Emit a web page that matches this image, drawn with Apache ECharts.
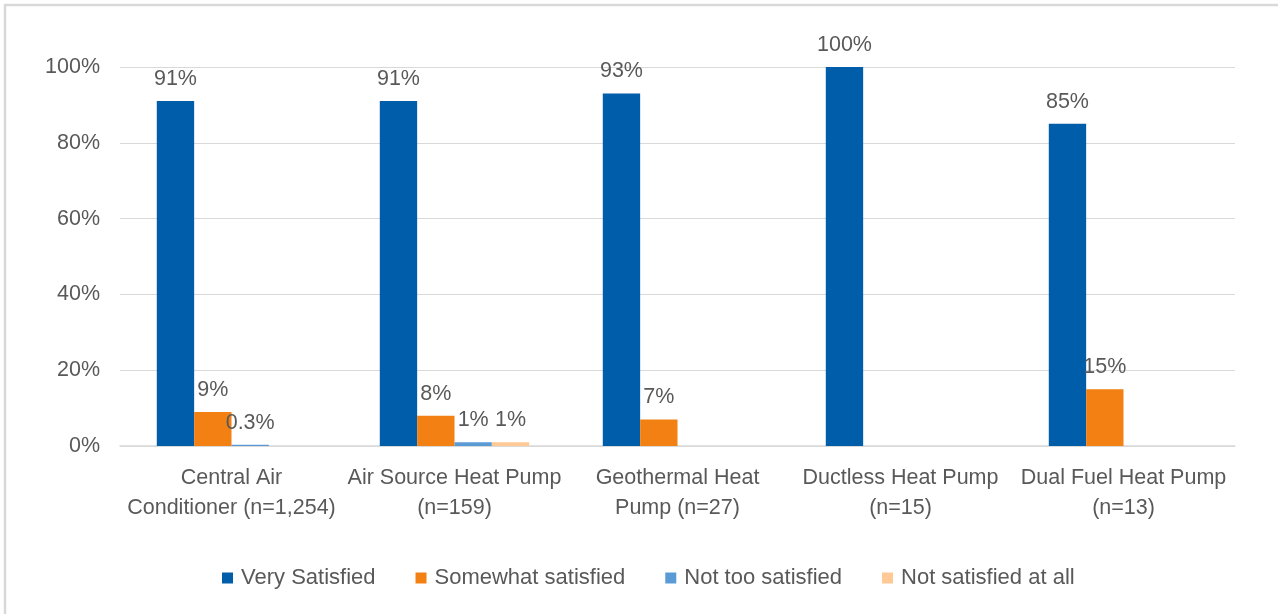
<!DOCTYPE html>
<html>
<head>
<meta charset="utf-8">
<script src="https://cdn.jsdelivr.net/npm/echarts@6/dist/echarts.min.js"></script>
<style>
  html, body { margin: 0; padding: 0; background: #ffffff; }
  #chart { width: 1278px; height: 614px; }
</style>
</head>
<body>
<div id="chart"></div>
<script>
// Satisfaction with cooling system, by system type (percent of respondents)
const categories = [
  'Central Air\nConditioner (n=1,254)',
  'Air Source Heat Pump\n(n=159)',
  'Geothermal Heat\nPump (n=27)',
  'Ductless Heat Pump\n(n=15)',
  'Dual Fuel Heat Pump\n(n=13)'
];
const seriesNames = ['Very Satisfied', 'Somewhat satisfied', 'Not too satisfied', 'Not satisfied at all'];
const verySatisfied      = [91, 91, 93, 100, 85];
const somewhatSatisfied  = [9, 8, 7, null, 15];
const notTooSatisfied    = [0.3, 1, null, null, null];
const notSatisfiedAtAll  = [null, 1, null, null, null];
const yTicks = [0, 20, 40, 60, 80, 100];

const colors = ['#005DAA', '#F28012', '#5B9BD5', '#FFC996'];
const textColor = '#595959';
const fontFamily = '"Liberation Sans", Arial, sans-serif';

const values = [verySatisfied, somewhatSatisfied, notTooSatisfied, notSatisfiedAtAll];

const chart = echarts.init(document.getElementById('chart'), null, { renderer: 'canvas' });

chart.setOption({
  backgroundColor: '#ffffff',
  animation: false,
  color: colors,
  graphic: [{
    type: 'rect',
    shape: { x: 5, y: 5, width: 1300, height: 700 },
    style: { fill: 'none', stroke: '#D9D9D9', lineWidth: 2.5 },
    silent: true
  }],
  grid: { left: 120, right: 43, top: 67, bottom: 168, containLabel: false },
  legend: {
    data: seriesNames,
    bottom: 20,
    left: 217,
    itemWidth: 11,
    itemHeight: 11,
    itemGap: 40,
    icon: 'rect',
    textStyle: { color: textColor, fontSize: 22, fontFamily: fontFamily, padding: [0, 0, 0, 3] }
  },
  xAxis: {
    type: 'category',
    data: categories,
    axisLine: { show: true, lineStyle: { color: '#D9D9D9', width: 1.5 } },
    axisTick: { show: false },
    axisLabel: {
      color: textColor,
      fontSize: 21.5,
      fontFamily: fontFamily,
      lineHeight: 30,
      margin: 17,
      interval: 0
    }
  },
  yAxis: {
    type: 'value',
    min: yTicks[0],
    max: yTicks[yTicks.length - 1],
    interval: yTicks[1] - yTicks[0],
    axisLine: { show: false },
    axisTick: { show: false },
    splitLine: { lineStyle: { color: '#D9D9D9', width: 1.2 } },
    axisLabel: {
      color: textColor,
      fontSize: 21.5,
      fontFamily: fontFamily,
      margin: 20,
      padding: [4, 0, 0, 0],
      formatter: '{value}%'
    }
  },
  series: seriesNames.map((name, i) => ({
    name: name,
    type: 'bar',
    data: values[i],
    barGap: '0%',
    barCategoryGap: '33%',
    itemStyle: { color: colors[i] },
    label: {
      show: true,
      position: 'top',
      distance: 11,
      color: textColor,
      fontSize: 21.5,
      fontFamily: fontFamily,
      formatter: p => p.value + '%'
    }
  }))
});
</script>
</body>
</html>
